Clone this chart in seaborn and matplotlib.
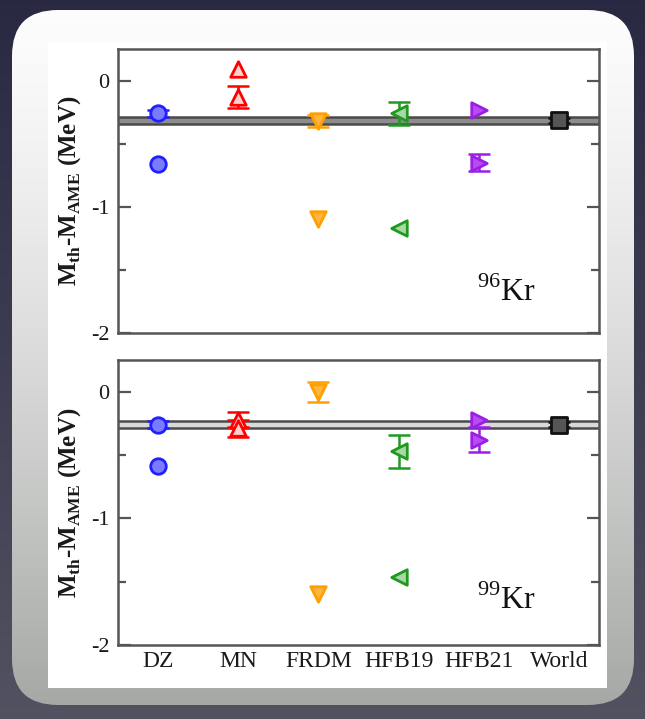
import numpy as np
import pandas as pd
import matplotlib
matplotlib.use("Agg")
import matplotlib.pyplot as plt
from matplotlib.patches import FancyBboxPatch, Rectangle
import seaborn as sns

# ---- data -------------------------------------------------------------
models = ["DZ", "MN", "FRDM", "HFB19", "HFB21", "World"]

# 96Kr: mass-model minus AME (MeV); err 0 means no error bar
kr96_model = ["DZ", "DZ", "MN", "MN", "FRDM", "FRDM", "HFB19", "HFB19", "HFB21", "HFB21", "World"]
kr96_value = [-0.26, -0.66, 0.09, -0.13, -0.32, -1.10, -0.26, -1.17, -0.23, -0.65, -0.315]
kr96_err = [0.03, 0.0, 0.0, 0.09, 0.05, 0.0, 0.09, 0.0, 0.0, 0.07, 0.02]
kr96_band = (-0.345, -0.285)

# 99Kr
kr99_model = ["DZ", "DZ", "MN", "MN", "FRDM", "FRDM", "HFB19", "HFB19", "HFB21", "HFB21", "World"]
kr99_value = [-0.26, -0.59, -0.22, -0.29, 0.0, -1.60, -0.47, -1.46, -0.22, -0.38, -0.26]
kr99_err = [0.03, 0.0, 0.06, 0.07, 0.08, 0.0, 0.13, 0.0, 0.0, 0.10, 0.02]
kr99_band = (-0.29, -0.23)

isotope_labels = ["96", "99"]

# marker style per model: (marker, face, edge)
styles = {
    "DZ": ("o", "#7b7bff", "#1f1fff"),
    "MN": ("^", "#ffd0d0", "#ff0000"),
    "FRDM": ("v", "#ffb540", "#ffa000"),
    "HFB19": ("<", "#a8d8a8", "#1f9a1f"),
    "HFB21": (">", "#b84cf0", "#9a1ee6"),
    "World": ("s", "#555555", "#111111"),
}

sns.set_theme(style="white")
plt.rcParams["font.family"] = ["Liberation Serif", "DejaVu Serif"]
plt.rcParams["mathtext.fontset"] = "custom"
plt.rcParams["mathtext.rm"] = "Liberation Serif"
plt.rcParams["mathtext.bf"] = "Liberation Serif:bold"

W, H = 645, 719
fig = plt.figure(figsize=(W / 100, H / 100), dpi=100)

# ---- slide-like backdrop ---------------------------------------------
bg = fig.add_axes([0, 0, 1, 1], zorder=0)
bg.set_xlim(0, W)
bg.set_ylim(H, 0)
bg.axis("off")
g = np.linspace(0, 1, 256)[:, None]
dark = np.dstack([0.16 + 0.16 * g, 0.16 + 0.16 * g, 0.26 + 0.12 * g])
bg.imshow(dark, extent=[0, W, H, 0], aspect="auto", zorder=0)

panel = FancyBboxPatch((12, 10), 622, 695, boxstyle="round,pad=0,rounding_size=46",
                       facecolor="none", edgecolor="none", transform=bg.transData)
bg.add_patch(panel)
light = np.dstack([0.99 - 0.34 * g ** 1.3, 0.99 - 0.33 * g ** 1.3, 0.99 - 0.34 * g ** 1.3])
im = bg.imshow(light, extent=[12, 634, 705, 10], aspect="auto", zorder=1)
im.set_clip_path(panel)
bg.add_patch(Rectangle((48, 42), 559, 646, facecolor="white", edgecolor="none", zorder=2))


def make_frame(model, value, err):
    return pd.DataFrame({"model": model, "value": value, "err": err,
                         "x": [models.index(m) + 1 for m in model]})


def draw_panel(ax, df, band, band_fill, iso, iso_y):
    ax.fill_between([0.5, 6.5], band[0], band[1], color=band_fill, zorder=1, lw=0)
    ax.axhline(band[0], color="#4a4a4a", lw=1.8, zorder=1.5)
    ax.axhline(band[1], color="#4a4a4a", lw=1.8, zorder=1.5)
    for m in models:
        sub = df[df["model"] == m]
        mk, fc, ec = styles[m]
        eb = sub[sub["err"] > 0]
        if len(eb):
            ax.errorbar(eb["x"], eb["value"], yerr=eb["err"], fmt="none", ecolor=ec,
                        elinewidth=1.8, capsize=8, capthick=1.8, zorder=3)
        sns.scatterplot(data=sub, x="x", y="value", marker=mk, s=125, color=fc,
                        edgecolor=ec, linewidth=2.0, ax=ax, zorder=4, legend=False)
    ax.set_xlim(0.5, 6.5)
    ax.set_ylim(-2, 0.25)
    ax.set_yticks([0, -1, -2])
    ax.set_yticklabels(["0", "-1", "-2"])
    ax.set_yticks([-0.5, -1.5], minor=True)
    ax.tick_params(axis="y", which="major", direction="in", length=9, width=1.6,
                   color="#555555", left=True, right=True, labelsize=16, pad=6,
                   labelcolor="#1a1a1a")
    ax.tick_params(axis="y", which="minor", direction="in", length=6, width=1.6,
                   color="#555555", left=True, right=True)
    ax.tick_params(axis="x", length=0)
    ax.set_xlabel("")
    ax.set_ylabel(r"M$_{\mathbf{th}}$-M$_{\mathbf{AME}}$ (MeV)", fontsize=18, labelpad=6,
                  color="#1a1a1a", fontweight="bold")
    for s in ax.spines.values():
        s.set_color("#555555")
        s.set_linewidth(1.8)
    ax.text(4.98, iso_y, r"$^{%s}$Kr" % iso, fontsize=23, ha="left", va="center",
            color="#111111")


ax1 = fig.add_axes([118 / W, 1 - 333 / H, 481 / W, 284 / H], zorder=3)
ax2 = fig.add_axes([118 / W, 1 - 645 / H, 481 / W, 285 / H], zorder=3)

draw_panel(ax1, make_frame(kr96_model, kr96_value, kr96_err), kr96_band, "#8c8c8c",
           isotope_labels[0], -1.68)
draw_panel(ax2, make_frame(kr99_model, kr99_value, kr99_err), kr99_band, "#d9d9d9",
           isotope_labels[1], -1.65)

ax1.set_xticks(range(1, 7))
ax1.set_xticklabels([])
ax2.set_xticks(range(1, 7))
ax2.set_xticklabels(models, fontsize=17, color="#1a1a1a")
ax2.tick_params(axis="x", pad=4)

fig.savefig("out.png", dpi=100)
